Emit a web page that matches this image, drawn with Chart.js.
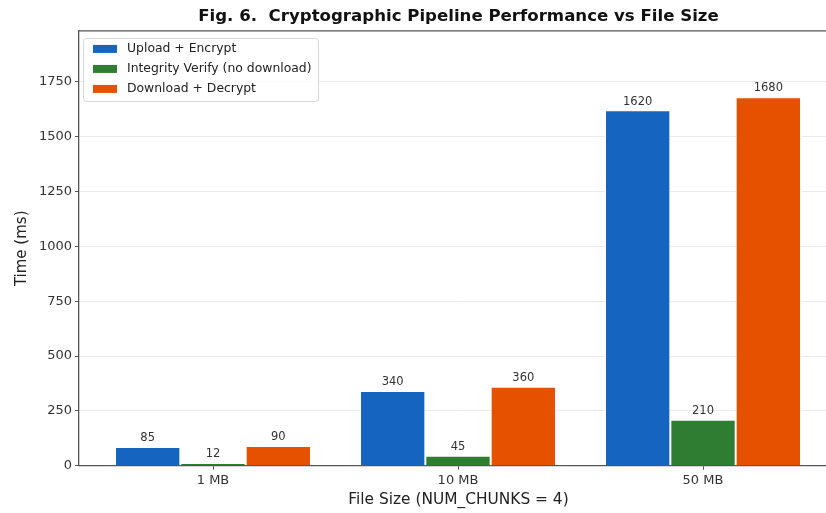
<!DOCTYPE html>
<html>
<head>
<meta charset="utf-8">
<script src="https://cdn.jsdelivr.net/npm/chart.js@4.4.0/dist/chart.umd.min.js"></script>
<style>
  body { margin: 0; overflow: hidden; background: #fff; }
</style>
</head>
<body>
<canvas id="myChart" width="840" height="513"></canvas>
<script>
// values
var fileSizes = ['1 MB', '10 MB', '50 MB'];
var uploadEncrypt = [85, 340, 1620];
var integrityVerify = [12, 45, 210];
var downloadDecrypt = [90, 360, 1680];
var yTicks = [0, 250, 500, 750, 1000, 1250, 1500, 1750];

var FONT = 'DejaVu Sans';
var spineColor = '#555555';

function toPoints(arr) {
    return arr.map(function (v, i) { return {x: i, y: v}; });
}

// number above each bar
var barLabels = {
    id: 'barLabels',
    afterDatasetsDraw: function (chart) {
        var ctx = chart.ctx;
        ctx.save();
        ctx.font = '11.5px "' + FONT + '"';
        ctx.fillStyle = '#333333';
        ctx.textAlign = 'center';
        ctx.textBaseline = 'bottom';
        chart.data.datasets.forEach(function (ds, di) {
            chart.getDatasetMeta(di).data.forEach(function (bar, i) {
                ctx.fillText(String(ds.data[i].y), bar.x, bar.y - 3);
            });
        });
        ctx.restore();
    }
};

// top spine + legend box inside the axes (like matplotlib upper left)
var frameAndLegend = {
    id: 'frameAndLegend',
    afterDraw: function (chart) {
        var ctx = chart.ctx;
        var a = chart.chartArea;
        ctx.save();
        ctx.strokeStyle = spineColor;
        ctx.lineWidth = 1.3;
        ctx.beginPath();
        ctx.moveTo(a.left, a.top);
        ctx.lineTo(a.right, a.top);
        ctx.lineTo(a.right, a.bottom);
        ctx.stroke();

        var bx = a.left + 4, by = a.top + 7, bw = 235, bh = 63;
        ctx.fillStyle = 'rgba(255,255,255,0.85)';
        ctx.strokeStyle = '#d6d6d6';
        ctx.lineWidth = 1;
        ctx.beginPath();
        ctx.roundRect(bx + 0.5, by + 0.5, bw, bh, 3);
        ctx.fill();
        ctx.stroke();

        ctx.font = '12.4px "' + FONT + '"';
        ctx.textBaseline = 'middle';
        ctx.textAlign = 'left';
        chart.data.datasets.forEach(function (ds, i) {
            var cy = by + 11 + i * 20;
            ctx.fillStyle = ds.backgroundColor;
            ctx.fillRect(bx + 10, cy - 4, 24, 8);
            ctx.fillStyle = '#222222';
            ctx.fillText(ds.label, bx + 44, cy);
        });
        ctx.restore();
    }
};

var graphData = {
    type: 'bar',
    data: {
        datasets: [{
            label: 'Upload + Encrypt',
            data: toPoints(uploadEncrypt),
            backgroundColor: '#1565C0',
            borderColor: '#ffffff',
            borderWidth: 1
        }, {
            label: 'Integrity Verify (no download)',
            data: toPoints(integrityVerify),
            backgroundColor: '#2E7D32',
            borderColor: '#ffffff',
            borderWidth: 1
        }, {
            label: 'Download + Decrypt',
            data: toPoints(downloadDecrypt),
            backgroundColor: '#E65100',
            borderColor: '#ffffff',
            borderWidth: 1
        }]
    },
    options: {
        responsive: false,
        animation: false,
        devicePixelRatio: 1,
        barPercentage: 1.0,
        categoryPercentage: 0.8,
        layout: { padding: { left: 0, right: 2, top: 0, bottom: 0 } },
        plugins: {
            legend: { display: false },
            tooltip: { enabled: false },
            title: {
                display: true,
                fullSize: false,
                text: 'Fig. 6.  Cryptographic Pipeline Performance vs File Size',
                color: '#111111',
                font: { family: FONT, size: 16.6, weight: 'bold', lineHeight: 1.2 },
                padding: { top: 7, bottom: 4 }
            }
        },
        scales: {
            x: {
                type: 'linear',
                min: -0.547,
                max: 2.551,
                offset: false,
                afterFit: function (scale) { scale.height = 47.3; },
                afterBuildTicks: function (scale) {
                    scale.ticks = fileSizes.map(function (s, i) { return {value: i}; });
                },
                ticks: {
                    padding: 3,
                    color: '#333333',
                    font: { family: FONT, size: 13 },
                    callback: function (v) { return fileSizes[v]; }
                },
                grid: { offset: false, drawOnChartArea: false, tickLength: 4, tickColor: spineColor },
                border: { display: true, color: spineColor, width: 1.3 },
                title: {
                    display: true,
                    text: 'File Size (NUM_CHUNKS = 4)',
                    color: '#222222',
                    font: { family: FONT, size: 15.4, lineHeight: 1.2 },
                    padding: { top: 0, bottom: 4 }
                }
            },
            y: {
                min: 0,
                max: 1982,
                afterFit: function (scale) { scale.width = 79; },
                afterBuildTicks: function (scale) {
                    scale.ticks = yTicks.map(function (v) { return {value: v}; });
                },
                ticks: {
                    padding: 3,
                    color: '#333333',
                    font: { family: FONT, size: 13 },
                    callback: function (v) { return String(v); }
                },
                grid: { color: '#ebebeb', lineWidth: 1, tickLength: 4, tickColor: spineColor },
                border: { display: true, color: spineColor, width: 1.3 },
                title: {
                    display: true,
                    text: 'Time (ms)',
                    color: '#222222',
                    font: { family: FONT, size: 15, lineHeight: 1.2 },
                    padding: { top: 13, bottom: 0 }
                }
            }
        }
    },
    plugins: [barLabels, frameAndLegend]
};

var myChart = new Chart(document.getElementById('myChart'), graphData);
</script>
</body>
</html>
